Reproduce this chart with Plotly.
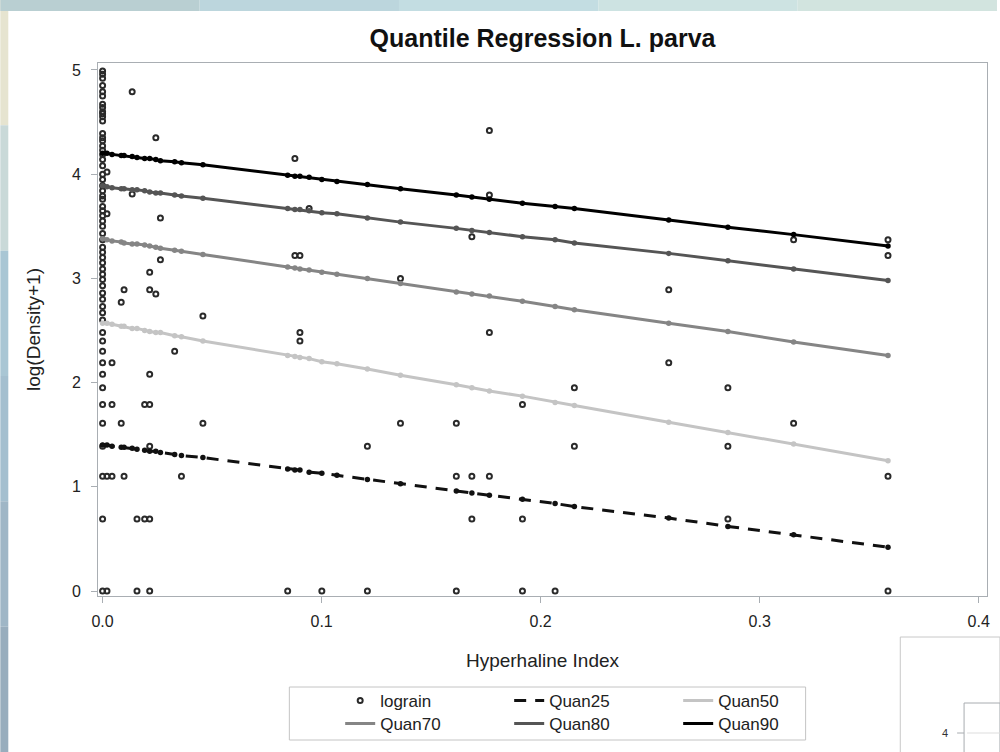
import plotly.graph_objects as go

# ---------------- data ----------------
# observations (lograin) located at Hyperhaline Index = 0
zero_index_y = [4.99, 4.96, 4.92, 4.85, 4.79, 4.75, 4.67, 4.64, 4.60, 4.58, 4.55, 4.51,
                4.39, 4.35, 4.32, 4.27, 4.23, 4.19, 4.14, 4.08, 4.00, 3.95, 3.89, 3.84,
                3.79, 3.76, 3.69, 3.65, 3.60, 3.55, 3.50, 3.43, 3.37, 3.30, 3.25, 3.20,
                3.15, 3.09, 3.04, 2.99, 2.93, 2.86, 2.80, 2.73, 2.67, 2.60, 2.48, 2.40,
                2.30, 2.19, 2.08, 1.95, 1.79, 1.61, 1.39, 1.10, 0.69, 0.00]

# other observations
other_x = [0.002, 0.002, 0.0135, 0.0243, 0.0135, 0.0264, 0.0264, 0.0215, 0.0098, 0.0215,
           0.0243, 0.0085, 0.0458, 0.0329, 0.0043, 0.0215, 0.0043, 0.0192, 0.0215, 0.0085,
           0.0458, 0.0215, 0.002, 0.0043, 0.0098, 0.036, 0.0157, 0.0192, 0.0215, 0.002,
           0.0157, 0.0215,
           0.0878, 0.1766, 0.1766, 0.0943, 0.1686, 0.0878, 0.0901, 0.136, 0.0901, 0.0901,
           0.1766, 0.2154, 0.1917, 0.136, 0.1615, 0.1209, 0.2154, 0.1615, 0.1686, 0.1766,
           0.1686, 0.1917, 0.0845, 0.1001, 0.1209, 0.1615, 0.1917, 0.2066, 0.3586, 0.3586,
           0.3155, 0.2585, 0.2585, 0.2855, 0.2855, 0.3155, 0.3586, 0.2855, 0.3586]
other_y = [4.02, 3.62, 4.79, 4.35, 3.81, 3.58, 3.18, 3.06, 2.89, 2.89,
           2.85, 2.77, 2.64, 2.30, 2.19, 2.08, 1.79, 1.79, 1.79, 1.61,
           1.61, 1.39, 1.10, 1.10, 1.10, 1.10, 0.69, 0.69, 0.69, 0.00,
           0.00, 0.00,
           4.15, 4.42, 3.80, 3.67, 3.40, 3.22, 3.22, 3.00, 2.48, 2.40,
           2.48, 1.95, 1.79, 1.61, 1.61, 1.39, 1.39, 1.10, 1.10, 1.10,
           0.69, 0.69, 0.00, 0.00, 0.00, 0.00, 0.00, 0.00, 3.37, 3.22,
           3.37, 2.89, 2.19, 1.95, 1.39, 1.61, 1.10, 0.69, 0.00]

# fitted quantile values at observed index values
fit_x = [0, 0.002, 0.0043, 0.0085, 0.0098, 0.0135, 0.0157, 0.0192, 0.0215, 0.0243, 0.0264,
         0.0329, 0.036, 0.0458, 0.0845, 0.0878, 0.0901, 0.0943, 0.1001, 0.107, 0.1209, 0.136,
         0.1615, 0.1686, 0.1766, 0.1917, 0.2066, 0.2154, 0.2585, 0.2855, 0.3155, 0.3586]
quan90 = [4.20, 4.20, 4.19, 4.18, 4.18, 4.17, 4.16, 4.15, 4.15, 4.14, 4.13, 4.12, 4.11, 4.09,
          3.99, 3.98, 3.98, 3.97, 3.95, 3.93, 3.90, 3.86, 3.80, 3.78, 3.76, 3.72, 3.69, 3.67,
          3.56, 3.49, 3.42, 3.31]
quan80 = [3.89, 3.88, 3.87, 3.86, 3.86, 3.85, 3.85, 3.84, 3.83, 3.82, 3.82, 3.80, 3.79, 3.77,
          3.67, 3.66, 3.66, 3.65, 3.63, 3.62, 3.58, 3.54, 3.48, 3.46, 3.44, 3.40, 3.37, 3.34,
          3.24, 3.17, 3.09, 2.98]
quan70 = [3.38, 3.37, 3.36, 3.35, 3.34, 3.33, 3.33, 3.32, 3.31, 3.30, 3.29, 3.27, 3.26, 3.23,
          3.11, 3.10, 3.09, 3.08, 3.06, 3.04, 3.00, 2.95, 2.87, 2.85, 2.83, 2.78, 2.73, 2.70,
          2.57, 2.49, 2.39, 2.26]
quan50 = [2.57, 2.57, 2.56, 2.54, 2.54, 2.52, 2.52, 2.50, 2.49, 2.48, 2.48, 2.45, 2.44, 2.40,
          2.26, 2.25, 2.24, 2.23, 2.20, 2.18, 2.13, 2.07, 1.98, 1.95, 1.92, 1.87, 1.81, 1.78,
          1.62, 1.52, 1.41, 1.25]
quan25 = [1.40, 1.40, 1.39, 1.38, 1.38, 1.37, 1.36, 1.35, 1.34, 1.34, 1.33, 1.31, 1.30, 1.28,
          1.17, 1.16, 1.16, 1.14, 1.13, 1.11, 1.07, 1.03, 0.96, 0.94, 0.92, 0.88, 0.84, 0.81,
          0.70, 0.62, 0.54, 0.42]

x_tickvals = [0, 0.1, 0.2, 0.3, 0.4]
x_ticktext = ["0.0", "0.1", "0.2", "0.3", "0.4"]
y_tickvals = [0, 1, 2, 3, 4, 5]

# ---------------- layout geometry ----------------
W, H = 1000, 752
L, R, T, B = 98, 10, 63, 156
PW, PH = W - L - R, H - T - B


def px(xp):
    return (xp - L) / PW


def py(yp):
    return (H - B - yp) / PH


FONT = "Liberation Sans, Arial, sans-serif"
AXC = "#a9aeb3"
TXT = "#222222"

fig = go.Figure()

rain_x = [0.0] * len(zero_index_y) + other_x
rain_y = zero_index_y + other_y

fig.add_trace(go.Scatter(
    x=rain_x, y=rain_y, mode="markers", name="lograin", legend="legend",
    marker=dict(symbol="circle-open", size=5, color="#2a2a2a", line=dict(width=2, color="#2a2a2a")),
))

lines = [
    ("Quan25", quan25, "#111111", "12px,9px", "legend"),
    ("Quan50", quan50, "#c4c4c4", "solid", "legend"),
    ("Quan70", quan70, "#858585", "solid", "legend2"),
    ("Quan80", quan80, "#555555", "solid", "legend2"),
    ("Quan90", quan90, "#000000", "solid", "legend2"),
]
for name, ys, col, dash, lg in lines:
    fig.add_trace(go.Scatter(
        x=fit_x, y=ys, mode="lines", name=name, legend=lg,
        line=dict(color=col, width=3, dash=dash),
    ))
    fig.add_trace(go.Scatter(
        x=fit_x, y=ys, mode="markers", showlegend=False, hoverinfo="skip",
        marker=dict(symbol="circle", size=5.5, color=col),
    ))

axis_common = dict(
    showline=True, linecolor=AXC, linewidth=1, mirror=True,
    ticks="outside", ticklen=6, tickcolor=AXC, tickwidth=1,
    showgrid=False, zeroline=False,
    tickfont=dict(family=FONT, size=16, color=TXT),
)

fig.update_xaxes(
    range=[-0.0021, 0.4038], tickvals=x_tickvals, ticktext=x_ticktext,
    ticklabelstandoff=5,
    title=dict(text="Hyperhaline Index", font=dict(family=FONT, size=19, color=TXT), standoff=24),
    **axis_common,
)
fig.update_yaxes(
    range=[-0.048, 5.067], tickvals=y_tickvals,
    ticklabelstandoff=7,
    title=dict(text="log(Density+1)", font=dict(family=FONT, size=19, color=TXT), standoff=26),
    **axis_common,
)

shapes = []
# desktop background strips
left_cols = ["#e6e4d0", "#c9d9d8", "#a9c6d4", "#a4bfcf", "#9fb6c6", "#98adbd"]
n = len(left_cols)
for i, c in enumerate(left_cols):
    shapes.append(dict(type="rect", xref="paper", yref="paper", layer="below",
                       x0=px(0), x1=px(8), y0=py(H * i / n), y1=py(H * (i + 1) / n),
                       line=dict(width=0), fillcolor=c))
top_cols = ["#b9cfd2", "#bcd6dd", "#c3dde2", "#cde3e2", "#d2e4df"]
m = len(top_cols)
for i, c in enumerate(top_cols):
    shapes.append(dict(type="rect", xref="paper", yref="paper", layer="below",
                       x0=px(W * i / m), x1=px(W * (i + 1) / m), y0=py(0), y1=py(11),
                       line=dict(width=0), fillcolor=c))
# legend frame
shapes.append(dict(type="rect", xref="paper", yref="paper",
                   x0=px(290), x1=px(808), y0=py(687), y1=py(740),
                   line=dict(color="#c4c4c4", width=1)))
# partially visible second window (bottom right)
shapes.append(dict(type="rect", xref="paper", yref="paper",
                   x0=px(903), x1=px(1003), y0=py(637), y1=py(755),
                   line=dict(color="#c8c8c8", width=1), fillcolor="white"))
shapes.append(dict(type="rect", xref="paper", yref="paper",
                   x0=px(967), x1=px(1003), y0=py(703), y1=py(755),
                   line=dict(color="#a8acb0", width=1), fillcolor="white"))
shapes.append(dict(type="line", xref="paper", yref="paper",
                   x0=px(960), x1=px(967), y0=py(733), y1=py(733),
                   line=dict(color="#a8acb0", width=1)))
shapes.append(dict(type="line", xref="paper", yref="paper",
                   x0=px(970), x1=px(1003), y0=py(733), y1=py(733),
                   line=dict(color="#dddddd", width=1)))

annotations = [dict(text="4", xref="paper", yref="paper", x=px(953), y=py(733),
                    showarrow=False, xanchor="right", yanchor="middle",
                    font=dict(family=FONT, size=11, color="#333333"))]

legend_common = dict(
    orientation="h", xanchor="left", yanchor="middle",
    entrywidth=124, entrywidthmode="pixels",
    bgcolor="rgba(0,0,0,0)", borderwidth=0,
    font=dict(family=FONT, size=17, color=TXT),
    itemclick=False, itemdoubleclick=False,
)

fig.update_layout(
    width=W, height=H,
    margin=dict(l=L, r=R, t=T, b=B),
    paper_bgcolor="white", plot_bgcolor="white",
    title=dict(text="<b>Quantile Regression L. parva</b>", x=0.5, xref="paper",
               xanchor="center", y=1 - 38 / H, yref="container", yanchor="middle",
               font=dict(family=FONT, size=25, color="#111111")),
    legend=dict(x=px(341), y=py(701), **legend_common),
    legend2=dict(x=px(341), y=py(724), **legend_common),
    shapes=shapes,
    annotations=annotations,
    showlegend=True,
)

fig.write_html("out.html")
